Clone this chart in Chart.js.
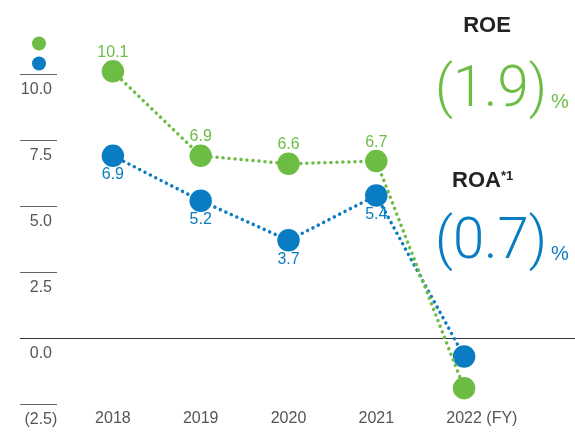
<!DOCTYPE html>
<html>
<head>
<meta charset="utf-8">
<script src="https://cdn.jsdelivr.net/npm/chart.js@4/dist/chart.umd.min.js"></script>
<style>
html,body{margin:0;padding:0;background:#fff;}
#wrap{width:575px;height:433px;position:relative;}
</style>
</head>
<body>
<div id="wrap"><canvas id="c" width="575" height="433"></canvas></div>
<script>
const categories = ["2018", "2019", "2020", "2021", "2022"];
const lastSuffix = " (FY)";
const roe = [10.1, 6.9, 6.6, 6.7, -1.9];
const roa = [6.9, 5.2, 3.7, 5.4, -0.7];
const yTicks = [10.0, 7.5, 5.0, 2.5, 0.0, -2.5];
const seriesNames = ["ROE", "ROA"];
const roaNote = "*1";

const GREEN = "#6dbd45";
const BLUE = "#0a7cc4";
const GRAY = "#555555";
const SANS = "'Liberation Sans', Arial, Helvetica, sans-serif";

function fmt(v){ return v < 0 ? "(" + Math.abs(v).toFixed(1) + ")" : v.toFixed(1); }

const decor = {
  id: "decor",
  beforeDatasetsDraw(chart){
    const ctx = chart.ctx;
    const y = chart.scales.y;
    ctx.save();
    yTicks.forEach(t => {
      const py = Math.round(y.getPixelForValue(t)) + 0.5;
      ctx.strokeStyle = t === 0 ? "#333" : "#666";
      ctx.lineWidth = 1.2;
      ctx.beginPath();
      ctx.moveTo(20, py);
      ctx.lineTo(t === 0 ? chart.width : 57, py);
      ctx.stroke();
      ctx.fillStyle = GRAY;
      ctx.font = "16px " + SANS;
      ctx.textBaseline = "top";
      ctx.textAlign = "right";
      const txt = fmt(t);
      let rx = 52;
      if (t < 0) rx += ctx.measureText(")").width;
      ctx.fillText(txt, rx, py + 7);
    });
    const x = chart.scales.x;
    ctx.font = "16px " + SANS;
    ctx.fillStyle = GRAY;
    ctx.textBaseline = "top";
    categories.forEach((c, i) => {
      const px = x.getPixelForValue(i);
      ctx.textAlign = "center";
      ctx.fillText(c, px, 411);
      if (i === categories.length - 1) {
        const w = ctx.measureText(c).width;
        ctx.textAlign = "left";
        ctx.fillText(lastSuffix, px + w / 2, 411);
      }
    });
    ctx.fillStyle = GREEN;
    ctx.beginPath(); ctx.arc(39, 43.5, 7, 0, Math.PI * 2); ctx.fill();
    ctx.fillStyle = BLUE;
    ctx.beginPath(); ctx.arc(39, 63.5, 7, 0, Math.PI * 2); ctx.fill();
    ctx.restore();
  },
  afterDatasetsDraw(chart){
    const ctx = chart.ctx;
    ctx.save();
    ctx.font = "16px " + SANS;
    ctx.textAlign = "center";
    ctx.textBaseline = "middle";
    const m0 = chart.getDatasetMeta(0), m1 = chart.getDatasetMeta(1);
    for (let i = 0; i < categories.length - 1; i++) {
      const p0 = m0.data[i], p1 = m1.data[i];
      ctx.fillStyle = GREEN;
      ctx.fillText(roe[i].toFixed(1), p0.x, p0.y - 19);
      ctx.fillStyle = BLUE;
      ctx.fillText(roa[i].toFixed(1), p1.x, p1.y + 19);
    }
    ctx.textBaseline = "alphabetic";
    ctx.fillStyle = "#222";
    ctx.font = "bold 22px " + SANS;
    ctx.textAlign = "center";
    ctx.fillText(seriesNames[0], 487, 32);
    ctx.textAlign = "left";
    const wR = ctx.measureText(seriesNames[1]).width;
    ctx.fillText(seriesNames[1], 452, 187);
    ctx.font = "bold 13px " + SANS;
    ctx.fillText(roaNote, 452 + wR, 180);

    function big(text, color, baseline){
      ctx.fillStyle = color;
      ctx.font = "300 58px Roboto, " + SANS;
      ctx.textAlign = "left";
      const w = ctx.measureText(text).width;
      const sx = 112 / w;
      ctx.save();
      ctx.translate(435, baseline);
      ctx.scale(sx, 1);
      ctx.fillText(text, 0, 0);
      ctx.restore();
      ctx.font = "20px " + SANS;
      ctx.fillText("%", 551, baseline + 2);
    }
    big(fmt(roe[roe.length - 1]), GREEN, 106);
    big(fmt(roa[roa.length - 1]), BLUE, 258);
    ctx.restore();
  }
};

new Chart(document.getElementById("c"), {
  type: "line",
  data: {
    labels: categories,
    datasets: [
      {
        label: seriesNames[0], data: roe,
        borderColor: GREEN, backgroundColor: GREEN,
        pointBackgroundColor: GREEN, pointBorderColor: GREEN,
        borderWidth: 3.5, borderDash: [0.01, 6], borderCapStyle: "round",
        pointRadius: 9.5, pointHoverRadius: 9.5, tension: 0, fill: false
      },
      {
        label: seriesNames[1], data: roa,
        borderColor: BLUE, backgroundColor: BLUE,
        pointBackgroundColor: BLUE, pointBorderColor: BLUE,
        borderWidth: 3.5, borderDash: [0.01, 6], borderCapStyle: "round",
        pointRadius: 9.5, pointHoverRadius: 9.5, tension: 0, fill: false
      }
    ]
  },
  options: {
    responsive: false,
    animation: false,
    devicePixelRatio: 1,
    layout: { autoPadding: false, padding: { left: 69, right: 67, top: 8, bottom: 29 } },
    plugins: { legend: { display: false }, tooltip: { enabled: false } },
    scales: {
      x: { display: false, offset: true },
      y: { display: false, min: -2.5, max: 12.5 }
    }
  },
  plugins: [decor]
});
</script>
</body>
</html>
